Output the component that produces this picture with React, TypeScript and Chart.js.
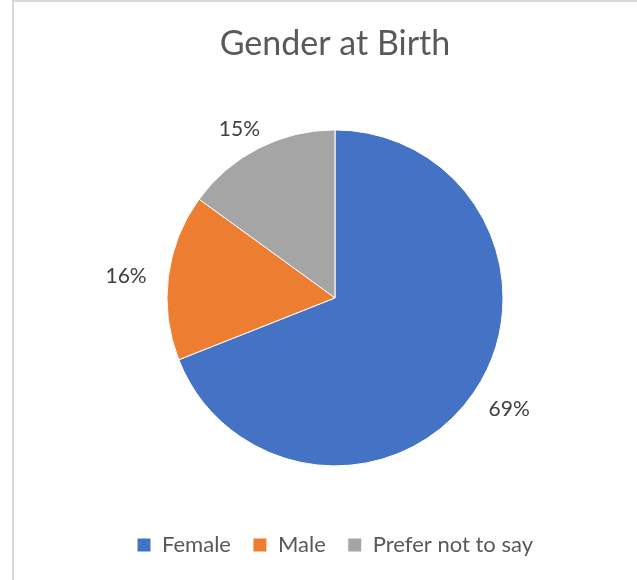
import React, { useEffect, useRef } from "react";
import { Chart, registerables } from "chart.js";

Chart.register(...registerables);

const categories = ["Female", "Male", "Prefer not to say"];
const values = [69, 16, 15];
const percentLabels = ["69%", "16%", "15%"];
const colors = ["#4472C4", "#ED7D31", "#A5A5A5"];
const titleText = "Gender at Birth";

const FONT = "Lato";

const outsideLabels = {
  id: "outsideLabels",
  afterDatasetsDraw(chart: any) {
    const ctx = chart.ctx;
    const meta = chart.getDatasetMeta(0);
    ctx.save();
    ctx.font = `21px ${FONT}`;
    ctx.fillStyle = "#404040";
    ctx.textAlign = "center";
    ctx.textBaseline = "middle";
    meta.data.forEach((arc: any, i: number) => {
      const p = arc.getProps(["x", "y", "startAngle", "endAngle", "outerRadius"], true);
      const mid = (p.startAngle + p.endAngle) / 2;
      const ux = Math.cos(mid);
      const uy = Math.sin(mid);
      const text = percentLabels[i];
      const w = ctx.measureText(text).width;
      const h = 6;
      const r = p.outerRadius + 22;
      const cx = p.x + ux * r + (ux * w) / 2;
      const cy = p.y + uy * r + (uy * h) / 2 + 3;
      ctx.fillText(text, cx, cy);
    });
    ctx.restore();
  },
};

export default function App() {
  const ref = useRef<HTMLCanvasElement | null>(null);

  useEffect(() => {
    if (!ref.current) return;
    const chart = new Chart(ref.current, {
      type: "pie",
      data: {
        labels: categories,
        datasets: [
          {
            data: values,
            backgroundColor: colors,
            borderColor: "#ffffff",
            borderWidth: 1,
            radius: 168,
          },
        ],
      },
      options: {
        animation: false,
        responsive: true,
        maintainAspectRatio: false,
        layout: { padding: { bottom: 14 } },
        plugins: {
          title: {
            display: true,
            text: titleText,
            color: "#595959",
            font: { family: FONT, size: 34, weight: "normal" },
            padding: { top: 22, bottom: 19 },
          },
          legend: {
            display: true,
            position: "bottom",
            labels: {
              boxWidth: 14,
              boxHeight: 14,
              padding: 22,
              color: "#595959",
              font: { family: FONT, size: 22 },
            },
          },
          tooltip: { enabled: false },
        },
      },
      plugins: [outsideLabels],
    });
    return () => chart.destroy();
  }, []);

  return (
    <div
      style={{
        position: "fixed",
        left: 0,
        top: 0,
        width: 637,
        height: 580,
        overflow: "hidden",
        background: "#ffffff",
      }}
    >
      <div
        style={{
          position: "absolute",
          left: 12,
          top: 0,
          width: 644,
          height: 580,
          borderLeft: "2px solid #d9d9d9",
          borderTop: "2px solid #d9d9d9",
          boxSizing: "border-box",
        }}
      >
        <canvas ref={ref} />
      </div>
    </div>
  );
}
